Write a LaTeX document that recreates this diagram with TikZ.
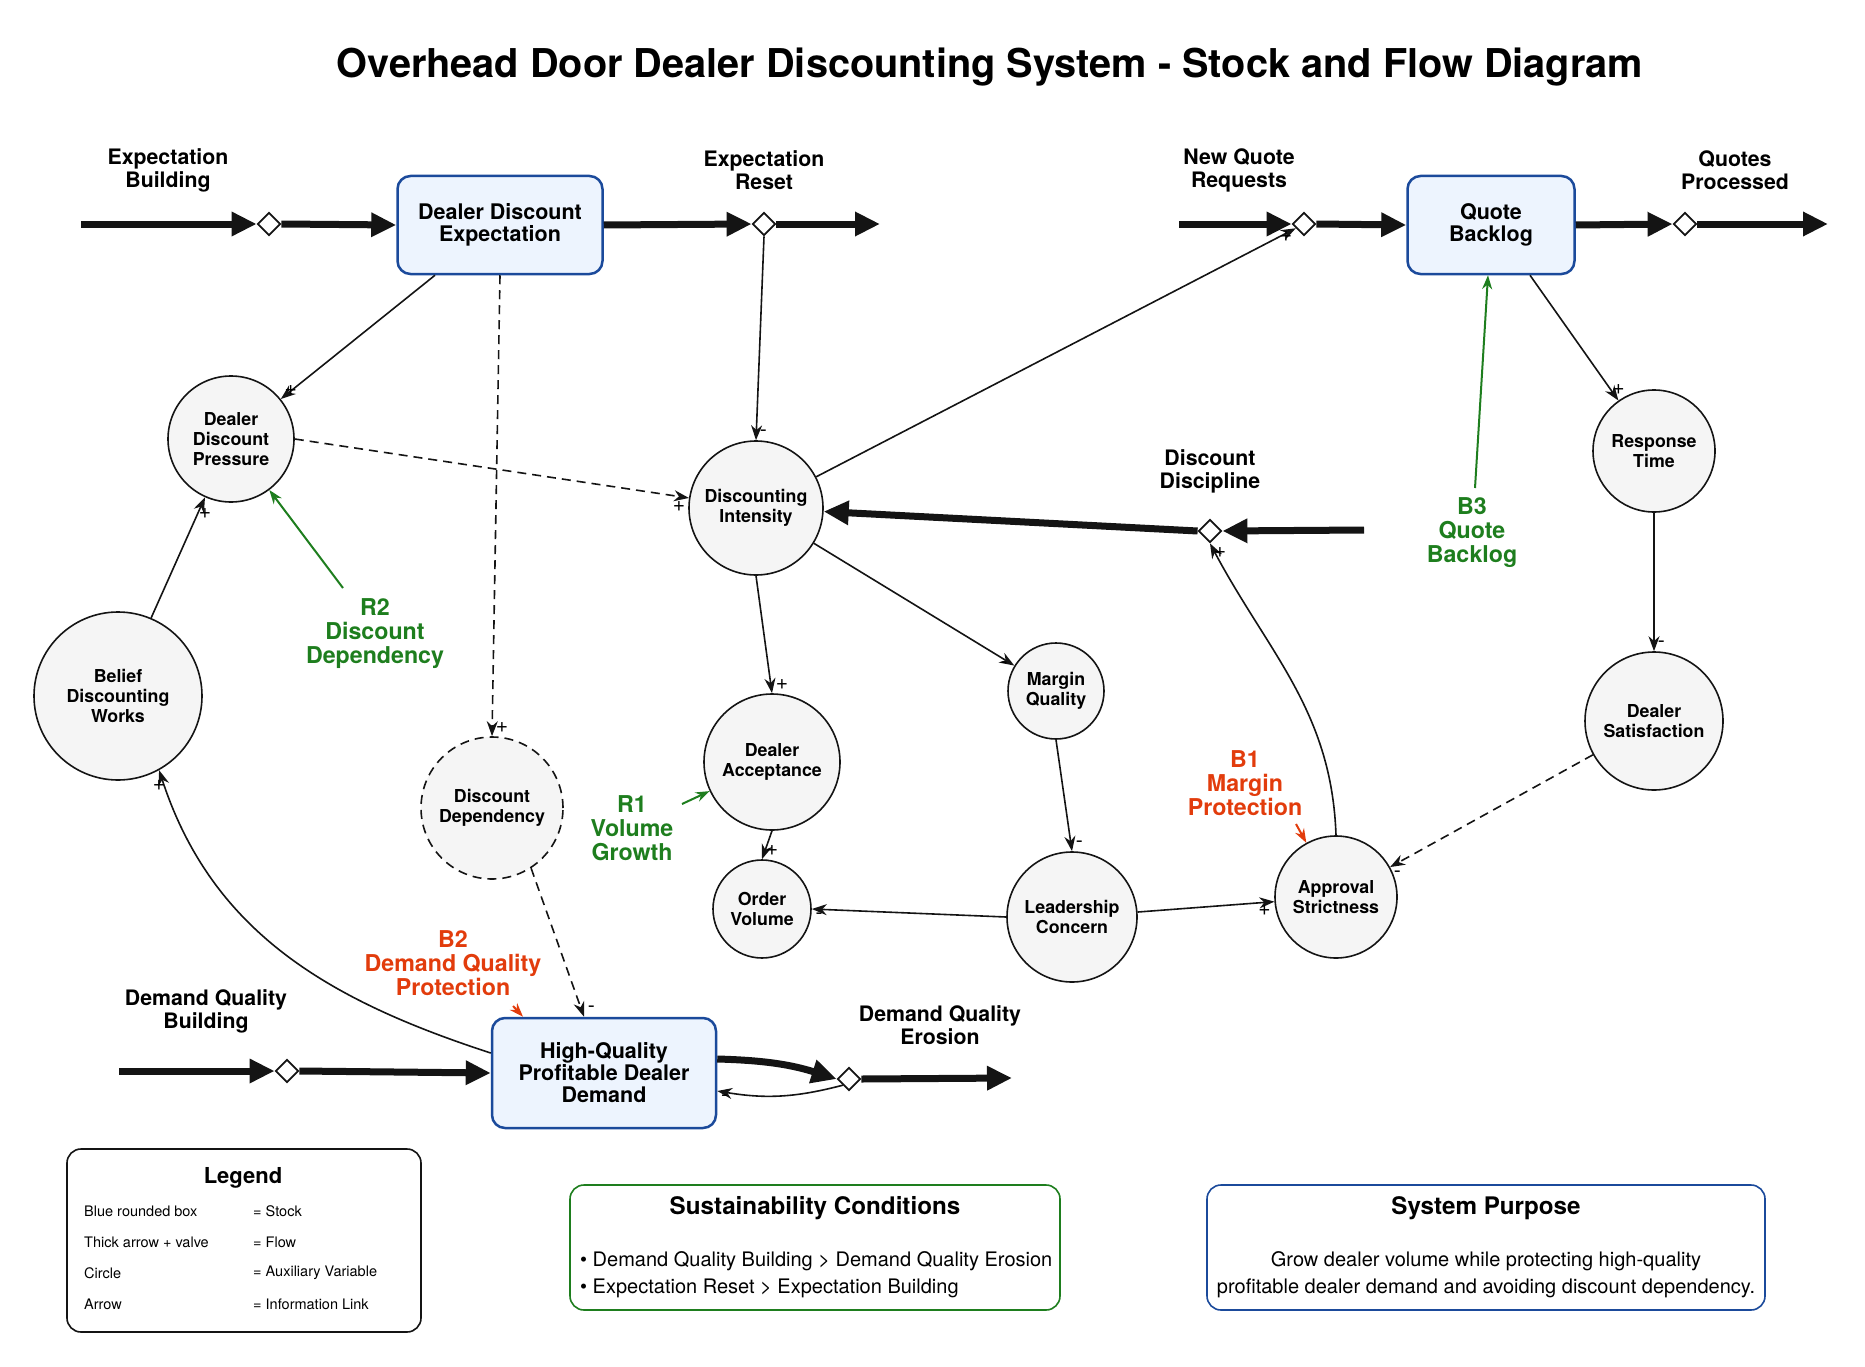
\documentclass[tikz,border=0pt]{standalone}
\usepackage{fontspec}
\setmainfont{TeX Gyre Heros}
\usepackage{xcolor}
\usetikzlibrary{arrows.meta, shapes.geometric}

\definecolor{stockblue}{RGB}{27,74,155}
\definecolor{stockfill}{RGB}{237,244,254}
\definecolor{auxfill}{RGB}{245,245,245}
\definecolor{loopgreen}{RGB}{30,126,30}
\definecolor{loopred}{RGB}{226,60,12}
\definecolor{ink}{RGB}{20,20,20}

\begin{document}
\begin{tikzpicture}[x=1pt, y=1pt]

        % 0. Page frame (pixel grid of the reference, y pointing down as negative)
        \useasboundingbox (0,0) rectangle (1865,-1367);

        \tikzset{
            stock/.style={draw=stockblue, fill=stockfill, line width=2.5pt, rounded corners=13pt,
                align=center, inner sep=0pt, font=\fontsize{21.5}{22}\selectfont\bfseries},
            aux/.style={circle, draw=ink, fill=auxfill, line width=1.6pt, align=center,
                inner sep=0pt, font=\fontsize{17.8}{20}\selectfont\bfseries},
            valve/.style={diamond, draw=ink, fill=white, line width=1.8pt,
                minimum width=23pt, minimum height=23pt, inner sep=0pt},
            flow/.style={line width=7pt, draw=ink, -{Triangle[length=25pt, width=23pt]}},
            flowname/.style={align=center, font=\fontsize{21.3}{23}\selectfont\bfseries},
            link/.style={line width=1.6pt, draw=ink, -{Stealth[length=15pt, width=11pt]}},
            soft/.style={dash pattern=on 9pt off 6pt},
            pol/.style={font=\fontsize{21}{21}\selectfont, inner sep=2pt},
            loopname/.style={align=center, font=\fontsize{23.2}{24}\selectfont\bfseries},
            looparrow/.style={line width=2pt, -{Stealth[length=14pt, width=10pt]}},
            panel/.style={draw, line width=1.6pt, rounded corners=14pt, fill=white},
            paneltitle/.style={font=\fontsize{24.2}{26}\selectfont\bfseries},
            paneltext/.style={font=\fontsize{20}{22}\selectfont, inner sep=0pt},
            legtext/.style={font=\fontsize{14.5}{16}\selectfont, anchor=west, inner sep=0pt}
        }

        % 1. Title
        \node[font=\fontsize{39.7}{42}\selectfont\bfseries] (title) at (990,-67)
            {Overhead Door Dealer Discounting System - Stock and Flow Diagram};

        % 2. Stocks
        \node[stock, minimum width=205pt, minimum height=98pt] (dde) at (500,-225) {Dealer Discount\\Expectation};
        \node[stock, minimum width=167pt, minimum height=98pt] (qb) at (1491,-225) {Quote\\Backlog};
        \node[stock, minimum width=224pt, minimum height=110pt] (hq) at (604,-1073) {High-Quality\\Profitable Dealer\\Demand};

        % 3. Valves and flow ends
        \node[valve] (vEB) at (269,-224) {};
        \node[valve] (vER) at (764,-224) {};
        \node[valve] (vNQ) at (1304,-224) {};
        \node[valve] (vQP) at (1685,-224) {};
        \node[valve] (vDD) at (1210,-531) {};
        \node[valve] (vDB) at (287,-1071) {};
        \node[valve] (vDE) at (849,-1079) {};

        \coordinate (eb0) at (81,-224);
        \coordinate (er1) at (880,-224);
        \coordinate (nq0) at (1179,-224);
        \coordinate (qp1) at (1828,-224);
        \coordinate (dd0) at (1364,-530);
        \coordinate (db0) at (119,-1071);
        \coordinate (de1) at (1012,-1078);

        % 4. Auxiliary variables
        \node[aux, minimum size=126pt] (ddp) at (231,-439) {Dealer\\Discount\\Pressure};
        \node[aux, minimum size=134pt] (di) at (756,-508) {Discounting\\Intensity};
        \node[aux, minimum size=168pt] (bdw) at (118,-696) {Belief\\Discounting\\Works};
        \node[aux, soft, minimum size=142pt] (dd) at (492,-808) {Discount\\Dependency};
        \node[aux, minimum size=136pt] (da) at (772,-762) {Dealer\\Acceptance};
        \node[aux, minimum size=96pt] (mq) at (1056,-691) {Margin\\Quality};
        \node[aux, minimum size=98pt] (ov) at (762,-909) {Order\\Volume};
        \node[aux, minimum size=130pt] (lc) at (1072,-917) {Leadership\\Concern};
        \node[aux, minimum size=122pt] (as) at (1336,-897) {Approval\\Strictness};
        \node[aux, minimum size=122pt] (rt) at (1654,-451) {Response\\Time};
        \node[aux, minimum size=138pt] (ds) at (1654,-721) {Dealer\\Satisfaction};

        % 5. Flows (thick arrows through the valves)
        \draw[flow] (eb0) -- (vEB.west);
        \draw[flow] (vEB.east) -- (dde.west);
        \draw[flow] (dde.east) -- (vER.west);
        \draw[flow] (vER.east) -- (er1);
        \draw[flow] (nq0) -- (vNQ.west);
        \draw[flow] (vNQ.east) -- (qb.west);
        \draw[flow] (qb.east) -- (vQP.west);
        \draw[flow] (vQP.east) -- (qp1);
        \draw[flow] (dd0) -- (vDD.east);
        \draw[flow] (vDD.west) -- (di);
        \draw[flow] (db0) -- (vDB.west);
        \draw[flow] (vDB.east) -- (hq.west);
        \draw[flow] ([yshift=14pt]hq.east) to[bend left=8] (vDE.west);
        \draw[flow] (vDE.east) -- (de1);

        \node[flowname] (lEB) at (168,-170) {Expectation\\Building};
        \node[flowname] (lER) at (764,-170) {Expectation\\Reset};
        \node[flowname] (lNQ) at (1239,-170) {New Quote\\Requests};
        \node[flowname] (lQP) at (1735,-170) {Quotes\\Processed};
        \node[flowname] (lDD) at (1210,-471) {Discount\\Discipline};
        \node[flowname] (lDB) at (206,-1011) {Demand Quality\\Building};
        \node[flowname] (lDE) at (940,-1025) {Demand Quality\\Erosion};

        % 6. Information links with polarity
        \draw[link] ([xshift=-65pt]dde.south) -- (ddp) node[pol, at end, above right=1pt] {+};
        \draw[link, soft] (dde.south) -- (dd.north) node[pol, at end, above right=1pt] {+};
        \draw[link] (vER.south) -- (di.north) node[pol, at end, above right=1pt] {-};
        \draw[link, soft] (ddp.east) -- (di) node[pol, at end, below left=1pt] {+};
        \draw[link] (di) -- (vNQ) node[pol, at end, below left=1pt] {+};
        \draw[link] ([xshift=39pt]qb.south) -- (rt) node[pol, at end, above=3pt] {+};
        \draw[link] (rt.south) -- (ds.north) node[pol, at end, above right=1pt] {-};
        \draw[link, soft] (ds) -- (as) node[pol, at end, below right=1pt] {-};
        \draw[link] (as.north) to[out=92, in=-62] node[pol, at end, below right=1pt] {+} (vDD.south);
        \draw[link] (di.south) -- (da.north) node[pol, at end, above right=1pt] {+};
        \draw[link] (di) -- (mq) node[pol, at end, left=4pt] {-};
        \draw[link] (mq.south) -- (lc.north) node[pol, at end, above right=1pt] {-};
        \draw[link] (lc.west) -- (ov.east) node[pol, at end, below right=1pt] {-};
        \draw[link] (lc) -- (as) node[pol, at end, below left=1pt] {+};
        \draw[link] (da.south) -- (ov.north) node[pol, at end, above right=1pt] {+};
        \draw[link, soft] (dd.-57) -- ([xshift=-20pt]hq.north) node[pol, at end, above right=1pt] {-};
        \draw[link] ([yshift=20pt]hq.west) to[out=162, in=-72] node[pol, at end, below=8pt] {+} (bdw.-61);
        \draw[link] (bdw.67) -- (ddp) node[pol, at end, below=8pt] {+};
        \draw[link] (vDE.south west) to[bend left=12] node[pol, at end, below right=1pt] {-} ([yshift=-18pt]hq.east);

        % 7. Loop names
        \node[loopname, text=loopgreen] (r2) at (375,-634) {R2\\Discount\\Dependency};
        \node[loopname, text=loopgreen] (r1) at (632,-828) {R1\\Volume\\Growth};
        \node[loopname, text=loopgreen] (b3) at (1472,-533) {B3\\Quote\\Backlog};
        \node[loopname, text=loopred] (b1) at (1245,-783) {B1\\Margin\\Protection};
        \node[loopname, text=loopred] (b2) at (453,-963) {B2\\Demand Quality\\Protection};

        \coordinate (r2tail) at (343,-588);
        \coordinate (r1tail) at (682,-804);
        \coordinate (b3tail) at (1475,-488);
        \coordinate (b1tail) at (1296,-824);
        \coordinate (b2tail) at (513,-1006);

        \draw[looparrow, loopgreen] (r2tail) -- (ddp);
        \draw[looparrow, loopgreen] (r1tail) -- (da);
        \draw[looparrow, loopgreen] (b3tail) -- ([xshift=-3pt]qb.south);
        \draw[looparrow, loopred] (b1tail) -- (as);
        \draw[looparrow, loopred] (b2tail) -- ([xshift=-81pt]hq.north);

        % 8. Legend and notes
        \node[panel, draw=ink, minimum width=354pt, minimum height=183pt] (legend) at (244,-1240.5) {};
        \node[font=\fontsize{22}{24}\selectfont\bfseries] (legtitle) at (243,-1178) {Legend};
        \node[legtext] (leg1) at (84,-1211) {Blue rounded box};
        \node[legtext] (leg2) at (84,-1242) {Thick arrow + valve};
        \node[legtext] (leg3) at (84,-1273) {Circle};
        \node[legtext] (leg4) at (84,-1304) {Arrow};
        \node[legtext] (leg1b) at (253,-1211) {= Stock};
        \node[legtext] (leg2b) at (253,-1242) {= Flow};
        \node[legtext] (leg3b) at (253,-1273) {= Auxiliary Variable};
        \node[legtext] (leg4b) at (253,-1304) {= Information Link};

        \node[panel, draw=loopgreen, minimum width=490pt, minimum height=125pt] (cond) at (815,-1247.5) {};
        \node[paneltitle] (condtitle) at (815,-1208) {Sustainability Conditions};
        \node[paneltext, anchor=west] (cond1) at (580,-1261) {\textbullet{} Demand Quality Building > Demand Quality Erosion};
        \node[paneltext, anchor=west] (cond2) at (580,-1288) {\textbullet{} Expectation Reset > Expectation Building};

        \node[panel, draw=stockblue, minimum width=558pt, minimum height=125pt] (purpose) at (1486,-1247.5) {};
        \node[paneltitle] (purptitle) at (1486,-1208) {System Purpose};
        \node[paneltext] (purp1) at (1486,-1261) {Grow dealer volume while protecting high-quality};
        \node[paneltext] (purp2) at (1486,-1288) {profitable dealer demand and avoiding discount dependency.};

\end{tikzpicture}
\end{document}
